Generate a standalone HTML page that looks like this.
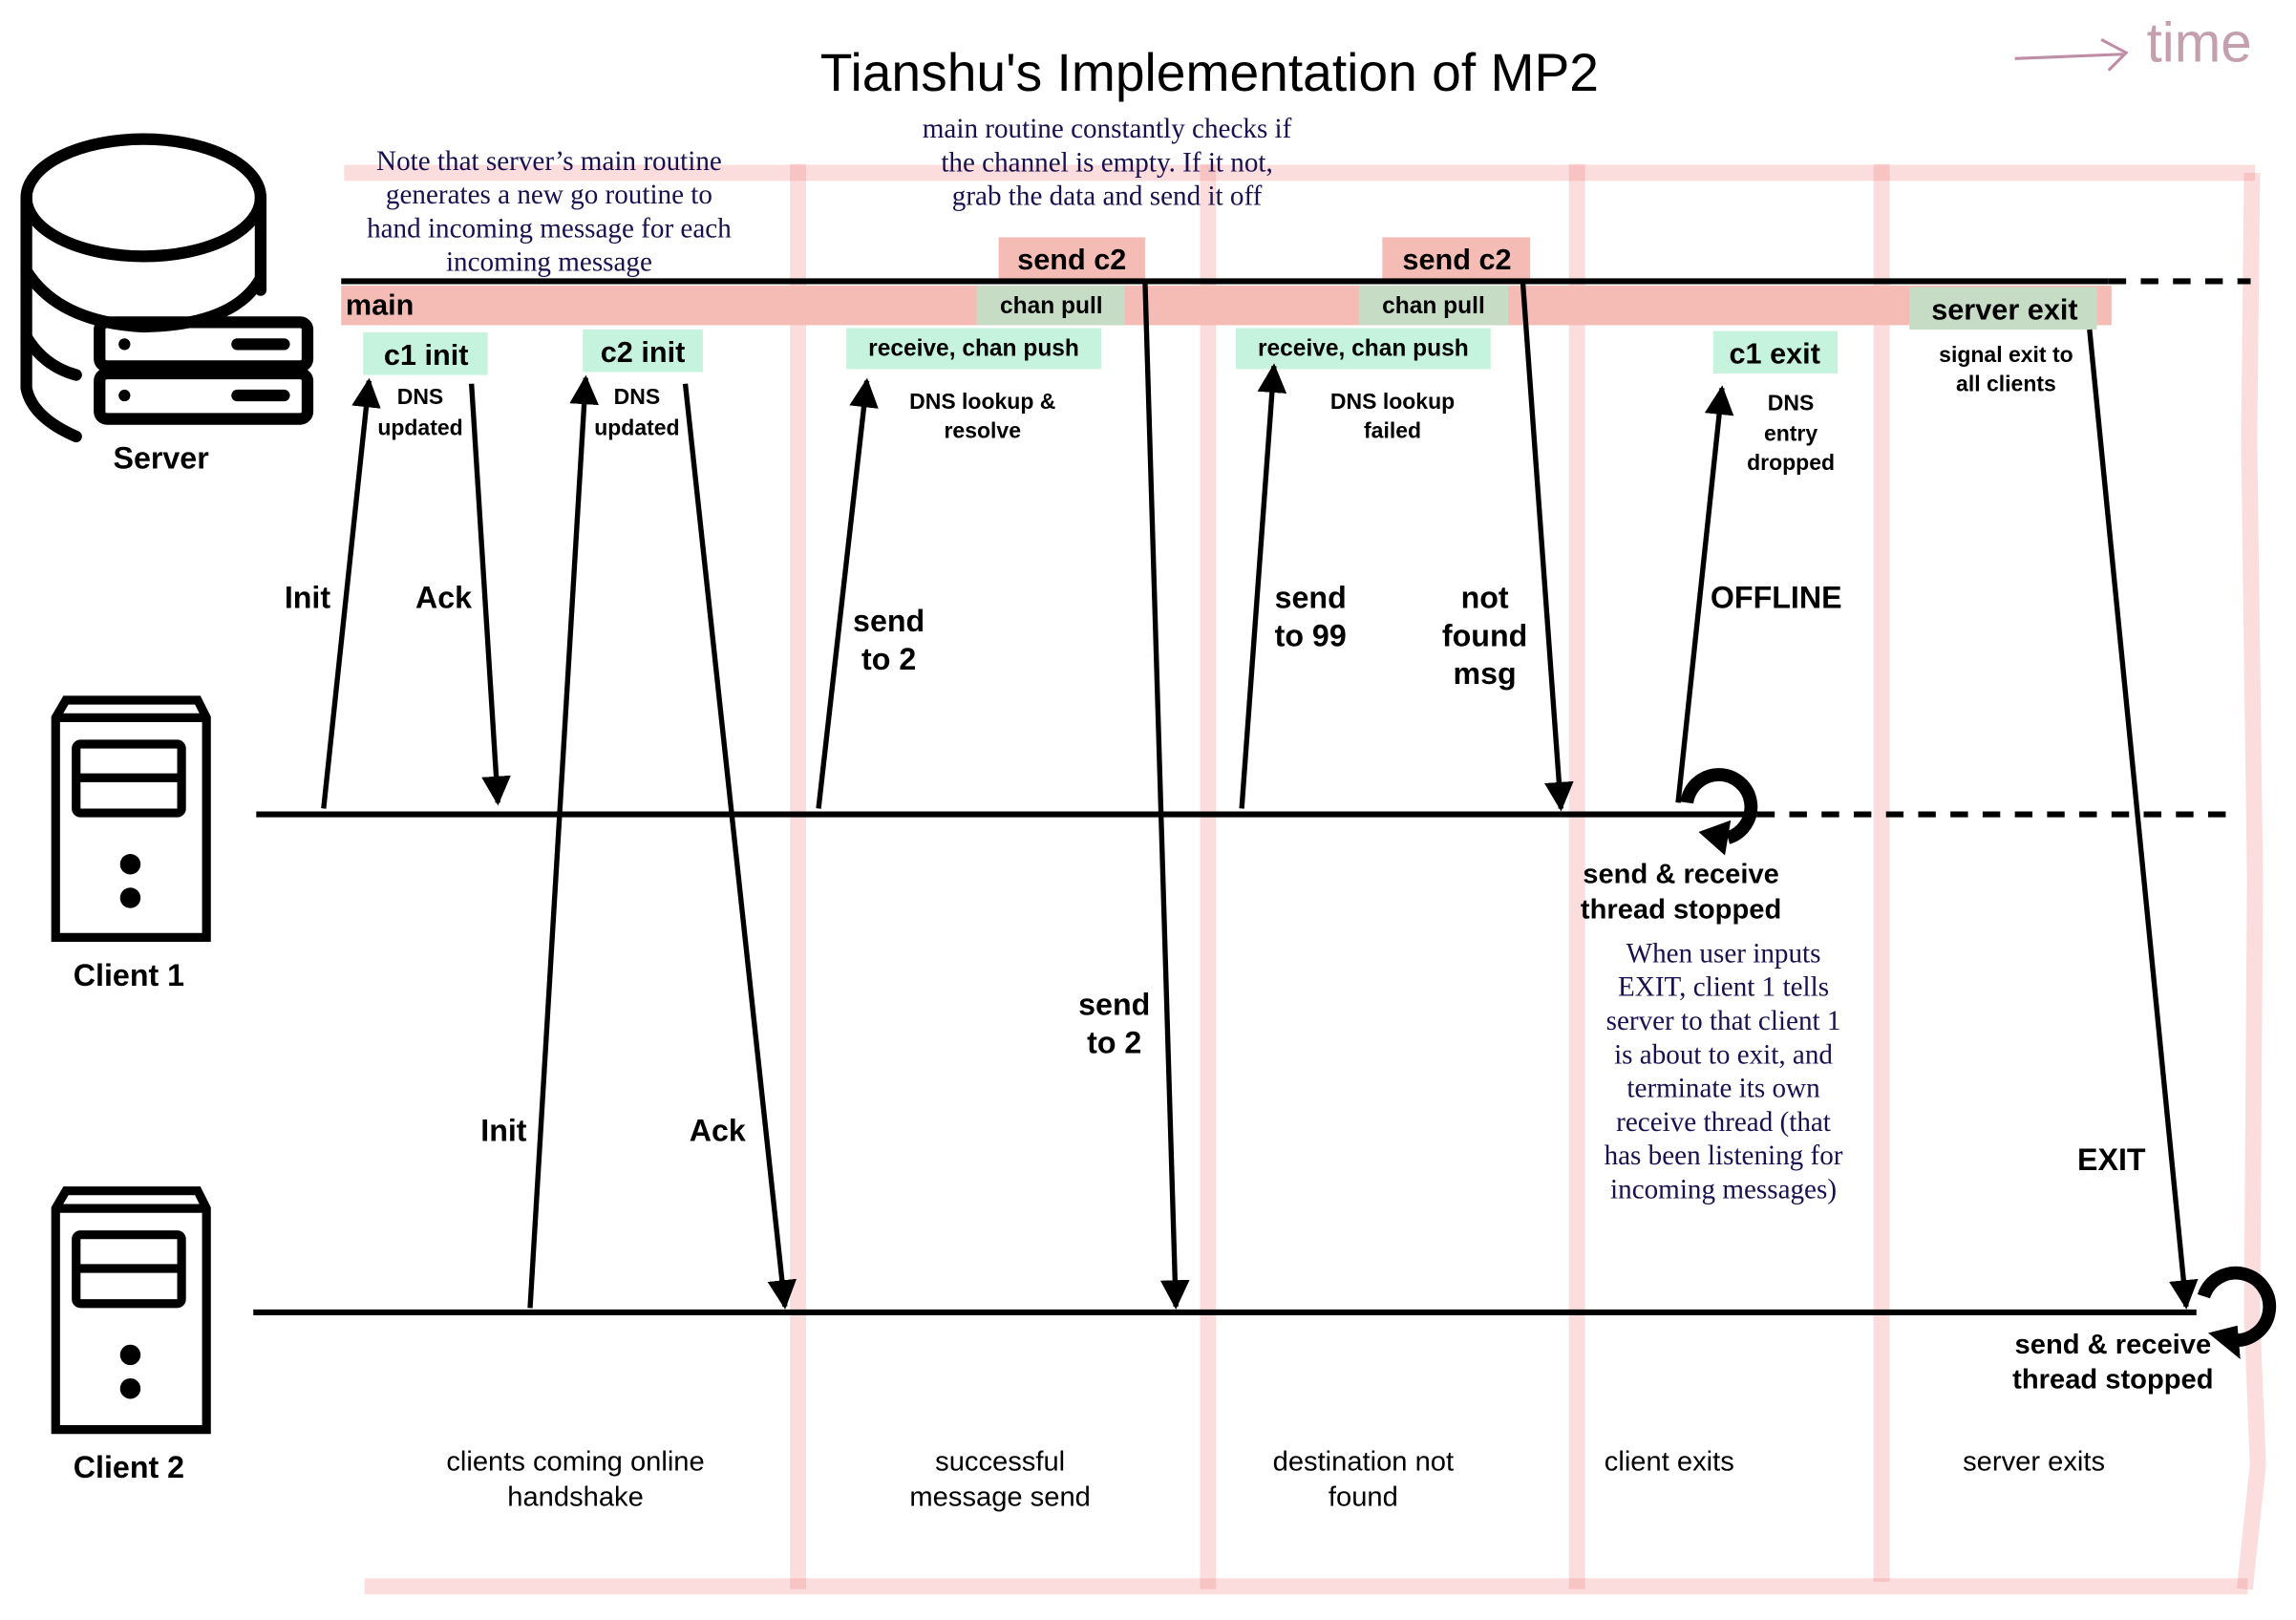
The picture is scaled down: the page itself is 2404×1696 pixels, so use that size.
<!DOCTYPE html>
<html><head><meta charset="utf-8"><style>
html,body{margin:0;padding:0;background:#fff;}
svg{display:block;}
.b{font-family:"Liberation Sans",sans-serif;font-weight:bold;fill:#000;}
.r{font-family:"Liberation Sans",sans-serif;fill:#000;}
.s{font-family:"Liberation Serif",serif;fill:#1a1050;}
</style></head><body>
<svg width="2404" height="1696" viewBox="0 0 1568 1106" preserveAspectRatio="none" xmlns="http://www.w3.org/2000/svg">
<defs>
<marker id="ah" markerWidth="10" markerHeight="10" refX="8" refY="5" orient="auto" markerUnits="userSpaceOnUse">
<path d="M0,0 L10,5 L0,10 z" fill="#000"/></marker>
<marker id="ah2" viewBox="0 0 10 10" markerWidth="20" markerHeight="20" refX="9" refY="5" orient="auto" markerUnits="userSpaceOnUse">
<path d="M0,0 L10,5 L0,10 z" fill="#000"/></marker>
</defs>
<!-- pink frame -->
<g stroke="rgba(240,120,120,0.25)" stroke-width="11" fill="none">
<line x1="235" y1="118" x2="1540" y2="118"/>
<line x1="249" y1="1083" x2="1535" y2="1083"/>
<line x1="545" y1="112" x2="545" y2="1085"/>
<line x1="825" y1="112" x2="825" y2="1085"/>
<line x1="1077" y1="112" x2="1077" y2="1085"/>
<line x1="1285" y1="112" x2="1285" y2="1080"/>
<path d="M1538,118 L1536,300 L1540,600 L1538,900 L1542,1000 L1533,1085"/>
</g>
<!-- title -->
<text x="826" y="62" text-anchor="middle" class="r" font-size="36">Tianshu's Implementation of MP2</text>
<g stroke="#b07090" stroke-width="2" fill="none" opacity="0.8"><path d="M1376,40 L1450,37 M1435,27 L1452,36 L1440,48"/></g>
<text x="1466" y="42" class="r" font-size="38" fill="#c09aa8" style="fill:#c4a0ae">time</text>
<!-- server icon -->
<g fill="none" stroke="#000" stroke-width="8" stroke-linecap="round">
<ellipse cx="98" cy="135" rx="80" ry="40"/>
<path d="M18,135 L18,265 Q22,285 52,298"/>
<path d="M18,185 Q40,220 98,223 Q160,222 178,190"/>
<path d="M178,135 L178,198"/>
<path d="M18,230 Q30,250 52,256"/>
<rect x="68" y="220" width="142" height="30" rx="5"/>
<rect x="68" y="255" width="142" height="31" rx="5"/>
</g>
<g fill="#000"><circle cx="85" cy="235" r="4"/><circle cx="85" cy="270" r="4"/>
<rect x="158" y="231" width="40" height="8" rx="4"/><rect x="158" y="266" width="40" height="8" rx="4"/></g>
<text x="110" y="320" text-anchor="middle" class="b" font-size="21">Server</text>
<!-- client icons -->
<g fill="none" stroke="#000" stroke-width="6">
<path d="M38,640 L38,490 L45,478 L135,478 L141,490 L141,640 Z M38,490 L141,490"/>
<rect x="52" y="508" width="72" height="47" rx="3"/><line x1="52" y1="531" x2="124" y2="531"/>
<path d="M38,976 L38,825 L45,813 L135,813 L141,825 L141,976 Z M38,825 L141,825"/>
<rect x="52" y="843" width="72" height="47" rx="3"/><line x1="52" y1="866" x2="124" y2="866"/>
</g>
<g fill="#000"><circle cx="89" cy="590" r="7"/><circle cx="89" cy="613" r="7"/>
<circle cx="89" cy="925" r="7"/><circle cx="89" cy="948" r="7"/></g>
<text x="88" y="673" text-anchor="middle" class="b" font-size="21">Client 1</text>
<text x="88" y="1009" text-anchor="middle" class="b" font-size="21">Client 2</text>
<!-- main bar -->
<rect x="233" y="195" width="1209" height="27" fill="#f5bcb5"/>
<text x="236" y="215" class="b" font-size="20">main</text>
<!-- boxes -->
<g>
<rect x="682" y="162" width="100" height="30" fill="#f5bcb5"/><text x="732" y="184" text-anchor="middle" class="b" font-size="20">send c2</text>
<rect x="944" y="162" width="101" height="30" fill="#f5bcb5"/><text x="995" y="184" text-anchor="middle" class="b" font-size="20">send c2</text>
<rect x="667" y="195" width="101" height="27" fill="#c6dcc4"/><text x="718" y="214" text-anchor="middle" class="b" font-size="16">chan pull</text>
<rect x="928" y="195" width="102" height="27" fill="#c6dcc4"/><text x="979" y="214" text-anchor="middle" class="b" font-size="16">chan pull</text>
<rect x="1304" y="196" width="128" height="29" fill="#c6dcc4"/><text x="1369" y="218" text-anchor="middle" class="b" font-size="20">server exit</text>
<rect x="248" y="227" width="85" height="29" fill="#c6f3dd"/><text x="291" y="249" text-anchor="middle" class="b" font-size="20">c1 init</text>
<rect x="398" y="225" width="82" height="29" fill="#c6f3dd"/><text x="439" y="247" text-anchor="middle" class="b" font-size="20">c2 init</text>
<rect x="578" y="224" width="174" height="28" fill="#c6f3dd"/><text x="665" y="243" text-anchor="middle" class="b" font-size="16">receive, chan push</text>
<rect x="844" y="224" width="174" height="28" fill="#c6f3dd"/><text x="931" y="243" text-anchor="middle" class="b" font-size="16">receive, chan push</text>
<rect x="1170" y="226" width="85" height="29" fill="#c6f3dd"/><text x="1212" y="248" text-anchor="middle" class="b" font-size="20">c1 exit</text>
</g>
<!-- timelines -->
<g stroke="#000" stroke-width="4" fill="none">
<line x1="233" y1="192" x2="1440" y2="192"/>
<line x1="1440" y1="192" x2="1537" y2="192" stroke-dasharray="12,10"/>
<line x1="175" y1="556" x2="1200" y2="556"/>
<line x1="1200" y1="556" x2="1528" y2="556" stroke-dasharray="12,10"/>
<line x1="173" y1="896" x2="1500" y2="896"/>
</g>
<!-- arrows -->
<g stroke="#000" stroke-width="3.5" fill="none" marker-end="url(#ah2)">
<line x1="221" y1="552" x2="252" y2="260"/>
<line x1="322" y1="262" x2="340" y2="548"/>
<line x1="362" y1="893" x2="400" y2="258"/>
<line x1="468" y1="262" x2="536" y2="892"/>
<line x1="559" y1="552" x2="592" y2="260"/>
<line x1="782" y1="193" x2="803" y2="892"/>
<line x1="848" y1="552" x2="870" y2="250"/>
<line x1="1040" y1="193" x2="1066" y2="552"/>
<line x1="1146" y1="548" x2="1176" y2="265"/>
<line x1="1427" y1="225" x2="1493" y2="892"/>
</g>
<!-- rotating arrows -->
<g stroke="#000" stroke-width="9" fill="none">
<path d="M1152,548 A22,22 0 1 1 1180,572"/>
<path d="M1505,885 A23,23 0 1 1 1525,915"/>
</g>
<path d="M1160,568 L1182,560 L1178,584 Z" fill="#000"/>
<path d="M1508,910 L1528,905 L1530,928 Z" fill="#000"/>
<!-- labels -->
<g class="b" font-size="21" text-anchor="middle">
<text x="210" y="415">Init</text><text x="303" y="415">Ack</text>
<text x="607" y="431">send</text><text x="607" y="457">to 2</text>
<text x="895" y="415">send</text><text x="895" y="441">to 99</text>
<text x="1014" y="415">not</text><text x="1014" y="441">found</text><text x="1014" y="467">msg</text>
<text x="1213" y="415">OFFLINE</text>
<text x="761" y="693">send</text><text x="761" y="719">to 2</text>
<text x="344" y="779">Init</text><text x="490" y="779">Ack</text>
<text x="1442" y="799">EXIT</text>
</g>
<g class="b" font-size="15" text-anchor="middle">
<text x="287" y="276">DNS</text><text x="287" y="297">updated</text>
<text x="435" y="276">DNS</text><text x="435" y="297">updated</text>
<text x="671" y="279">DNS lookup &amp;</text><text x="671" y="299">resolve</text>
<text x="951" y="279">DNS lookup</text><text x="951" y="299">failed</text>
<text x="1223" y="280">DNS</text><text x="1223" y="301">entry</text><text x="1223" y="321">dropped</text>
<text x="1370" y="247">signal exit to</text><text x="1370" y="267">all clients</text>
</g>
<g class="b" font-size="19" text-anchor="middle">
<text x="1148" y="603">send &amp; receive</text><text x="1148" y="627">thread stopped</text>
<text x="1443" y="924">send &amp; receive</text><text x="1443" y="948">thread stopped</text>
</g>
<g class="s" font-size="19" text-anchor="middle">
<text x="375" y="116">Note that server’s main routine</text>
<text x="375" y="139">generates a new go routine to</text>
<text x="375" y="162">hand incoming message for each</text>
<text x="375" y="185">incoming message</text>
<text x="756" y="94">main routine constantly checks if</text>
<text x="756" y="117">the channel is empty. If it not,</text>
<text x="756" y="140">grab the data and send it off</text>
<text x="1177" y="657">When user inputs</text>
<text x="1177" y="680">EXIT, client 1 tells</text>
<text x="1177" y="703">server to that client 1</text>
<text x="1177" y="726">is about to exit, and</text>
<text x="1177" y="749">terminate its own</text>
<text x="1177" y="772">receive thread (that</text>
<text x="1177" y="795">has been listening for</text>
<text x="1177" y="818">incoming messages)</text>
</g>
<g class="r" font-size="19" text-anchor="middle">
<text x="393" y="1004">clients coming online</text><text x="393" y="1028">handshake</text>
<text x="683" y="1004">successful</text><text x="683" y="1028">message send</text>
<text x="931" y="1004">destination not</text><text x="931" y="1028">found</text>
<text x="1140" y="1004">client exits</text>
<text x="1389" y="1004">server exits</text>
</g>
</svg>
</body></html>
